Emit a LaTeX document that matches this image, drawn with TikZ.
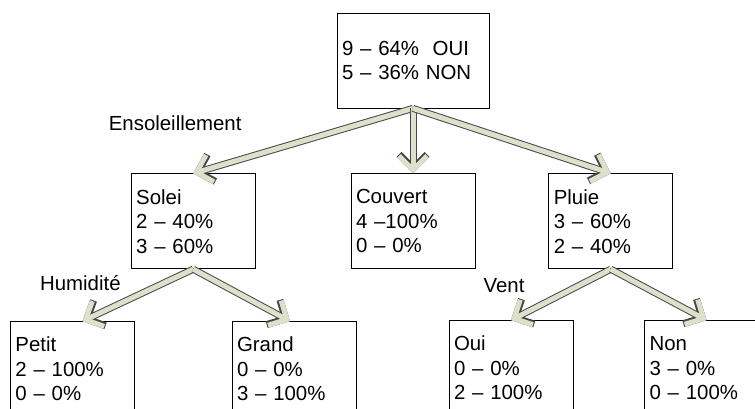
\documentclass[tikz,border=0pt]{standalone}
\usepackage{fontspec}
\setmainfont{Liberation Sans}
\usetikzlibrary{positioning,arrows.meta}
\definecolor{armfill}{RGB}{221,224,203}
\definecolor{armedge}{RGB}{72,72,72}

\begin{document}
\begin{tikzpicture}[
    x=1pt, y=1pt,
    leaf/.style={draw=black, line width=0.8pt, fill=white, minimum width=124pt, minimum height=95pt,
      text width=114pt, inner xsep=5pt, align=left, font=\fontsize{20.4}{24.5}\selectfont},
    attr/.style={inner sep=0pt, font=\fontsize{20.4}{24.5}\selectfont},
    flow/.style={draw=armedge, line width=7pt,
      -{Straight Barb[length=14pt, width=28pt, line cap=butt, line join=miter]},
      postaction={draw=armfill, line width=5pt}}
  ]
  \useasboundingbox (0,0) rectangle (755,408);
  \node[leaf, text width=142pt] (root) at (413,347.5) {9 – 64\%\ \ OUI\\ 5 – 36\% NON};
  \node[leaf, below=65pt of root] (couvert) {Couvert\\ 4 –100\%\\ 0 – 0\%};
  \node[leaf, left=95pt of couvert] (solei) {Solei\\ 2 – 40\%\\ 3 – 60\%};
  \node[leaf, right=73pt of couvert] (pluie) {Pluie\\ 3 – 60\%\\ 2 – 40\%};
  \node[leaf, below left=52pt and -4pt of solei] (petit) {Petit\\ 2 – 100\%\\ 0 – 0\%};
  \node[leaf, below right=52pt and -24pt of solei] (grand) {Grand\\ 0 – 0\%\\ 3 – 100\%};
  \node[leaf, below left=51pt and -25pt of pluie] (oui) {Oui\\ 0 – 0\%\\ 2 – 100\%};
  \node[leaf, below right=51pt and -29pt of pluie] (non) {Non\\ 3 – 0\%\\ 0 – 100\%};

  \node[attr, above=43pt of solei, xshift=-18pt] (ensol) {Ensoleillement};
  \node[attr, above=30pt of petit, xshift=8pt] (humid) {Humidité};
  \node[attr, above=27pt of oui, xshift=-7pt] (vent) {Vent};

  \draw[flow] (root.south) -- (solei.north);
  \draw[flow] (root.south) -- (couvert.north);
  \draw[flow] (root.south) -- (pluie.north);
  \draw[flow] (solei.south) -- ([xshift=10pt]petit.north);
  \draw[flow] (solei.south) -- ([xshift=-4pt]grand.north);
  \draw[flow] (pluie.south) -- (oui.north);
  \draw[flow] (pluie.south) -- (non.north);
\end{tikzpicture}
\end{document}
